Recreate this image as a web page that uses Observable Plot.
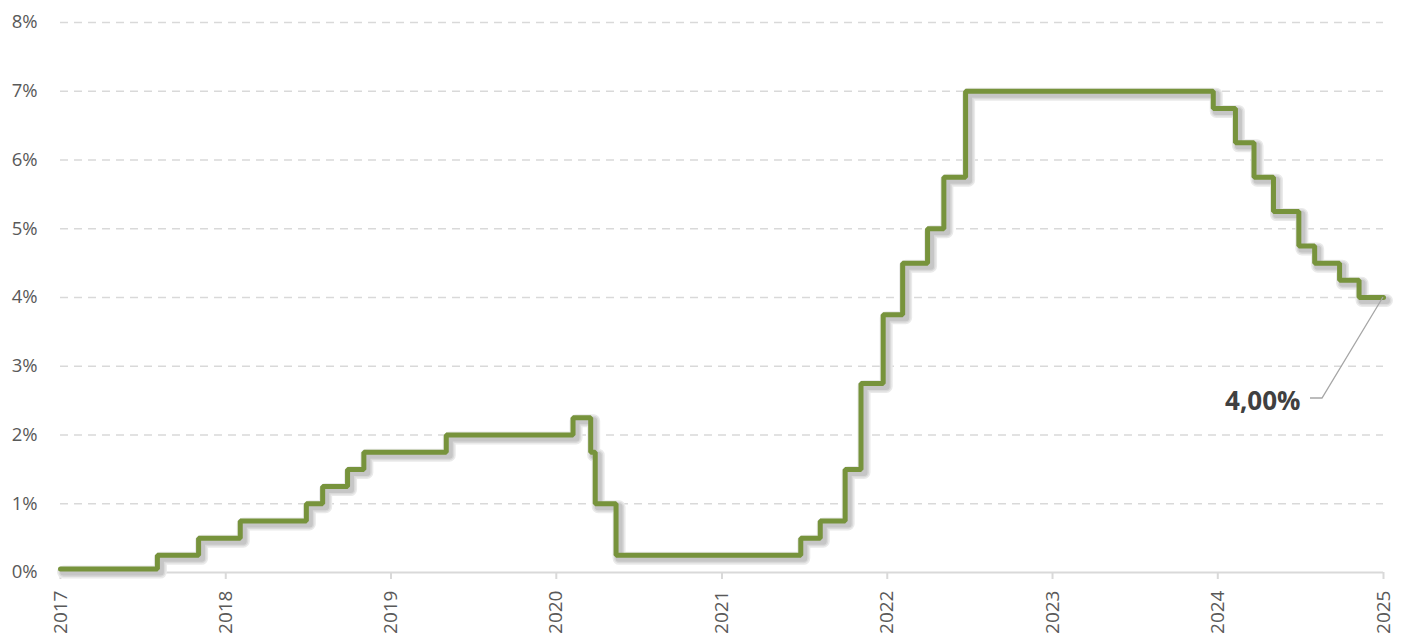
<!DOCTYPE html>
<html>
<head>
<meta charset="utf-8">
<script src="https://cdn.jsdelivr.net/npm/d3@7"></script>
<script src="https://cdn.jsdelivr.net/npm/@observablehq/plot@0.6"></script>
<style>
  html, body { margin: 0; padding: 0; background: #fff; overflow: hidden; }
  svg { display: block; font-family: "Open Sans", sans-serif; }
</style>
</head>
<body>
<div id="chart"></div>
<script>
// Step dates (rate effective from) and rate values in %
const dates = [
  "2017-01-01","2017-08-03","2017-11-02","2018-02-02","2018-06-28","2018-08-03",
  "2018-09-27","2018-11-02","2019-05-03","2020-02-07","2020-03-17","2020-03-27",
  "2020-05-12","2021-06-24","2021-08-06","2021-09-30","2021-11-04","2021-12-23",
  "2022-02-04","2022-03-31","2022-05-06","2022-06-23","2023-12-22","2024-02-09",
  "2024-03-21","2024-05-03","2024-06-28","2024-08-02","2024-09-26","2024-11-08",
  "2025-01-01"
];
const rates = [
  0.05, 0.25, 0.50, 0.75, 1.00, 1.25,
  1.50, 1.75, 2.00, 2.25, 1.75, 1.00,
  0.25, 0.50, 0.75, 1.50, 2.75, 3.75,
  4.50, 5.00, 5.75, 7.00, 6.75, 6.25,
  5.75, 5.25, 4.75, 4.50, 4.25, 4.00,
  4.00
];
const yTicks = [0, 1, 2, 3, 4, 5, 6, 7, 8];
const yearTicks = ["2017","2018","2019","2020","2021","2022","2023","2024","2025"];
const annotation = { label: "4,00%", index: rates.length - 1 };

const data = dates.map((d, i) => ({ date: new Date(d + "T00:00:00"), rate: rates[i] }));
const xTickDates = yearTicks.map(y => new Date(y + "-01-01T00:00:00"));

// soft shadow colours (light to darker), drawn as offset copies of the line
const shadowWidths = [13, 10, 7];
const shadowColors = ["#eaeaea", "#d9d9d9", "#c6c6c6"];

const plot = Plot.plot({
  width: 1405,
  height: 633,
  marginLeft: 60,
  marginRight: 22,
  marginTop: 22,
  marginBottom: 61,
  style: { fontFamily: "Open Sans, sans-serif", background: "#fff" },
  x: { type: "time", domain: [xTickDates[0], xTickDates[xTickDates.length - 1]] },
  y: { domain: [0, 8] },
  marks: [
    Plot.gridY(yTicks.slice(1), { stroke: "#d9d9d9", strokeOpacity: 1, strokeWidth: 1.3, strokeDasharray: "8,6" }),
    Plot.ruleY([0], { stroke: "#d9d9d9", strokeWidth: 2 }),
    Plot.axisY(yTicks, {
      tickSize: 0, tickPadding: 23, fontSize: 18.5, fill: "#595959",
      tickFormat: d => d + "%", label: null
    }),
    Plot.axisX(xTickDates, {
      tickSize: 7, stroke: "#d9d9d9", strokeWidth: 2, strokeOpacity: 1, tickRotate: -90, tickPadding: 11,
      fontSize: 19, fill: "#595959",
      tickFormat: d3.timeFormat("%Y"), label: null
    }),
    Plot.line(data, {
      x: "date", y: "rate", curve: "step-after", dx: 3, dy: 3,
      stroke: shadowColors[0], strokeWidth: shadowWidths[0], strokeLinejoin: "round"
    }),
    Plot.line(data, {
      x: "date", y: "rate", curve: "step-after", dx: 3, dy: 3,
      stroke: shadowColors[1], strokeWidth: shadowWidths[1], strokeLinejoin: "round"
    }),
    Plot.line(data, {
      x: "date", y: "rate", curve: "step-after", dx: 3, dy: 3,
      stroke: shadowColors[2], strokeWidth: shadowWidths[2], strokeLinejoin: "round"
    }),
    Plot.line(data, {
      x: "date", y: "rate", curve: "step-after",
      stroke: "#77933c", strokeWidth: 5, strokeLinejoin: "miter"
    }),
    Plot.text([data[annotation.index]], {
      x: "date", y: "rate", text: () => annotation.label,
      dx: -83, dy: 104, textAnchor: "end", fontSize: 26, fontWeight: "bold", fill: "#404040"
    })
  ]
});

document.getElementById("chart").appendChild(plot);

const svg = d3.select(plot);
// Leader line from annotation label to the last point, using the plot's scales
const xs = plot.scale("x"), ys = plot.scale("y");
const pt = data[annotation.index];
const px = xs.apply(pt.date), py = ys.apply(pt.rate);
const lx = px - 73, ly = py + 101;
svg.append("path")
  .attr("d", `M${lx},${ly}H${lx + 12}L${px},${py}`)
  .attr("fill", "none").attr("stroke", "#a6a6a6").attr("stroke-width", 1.3);
</script>
</body>
</html>
